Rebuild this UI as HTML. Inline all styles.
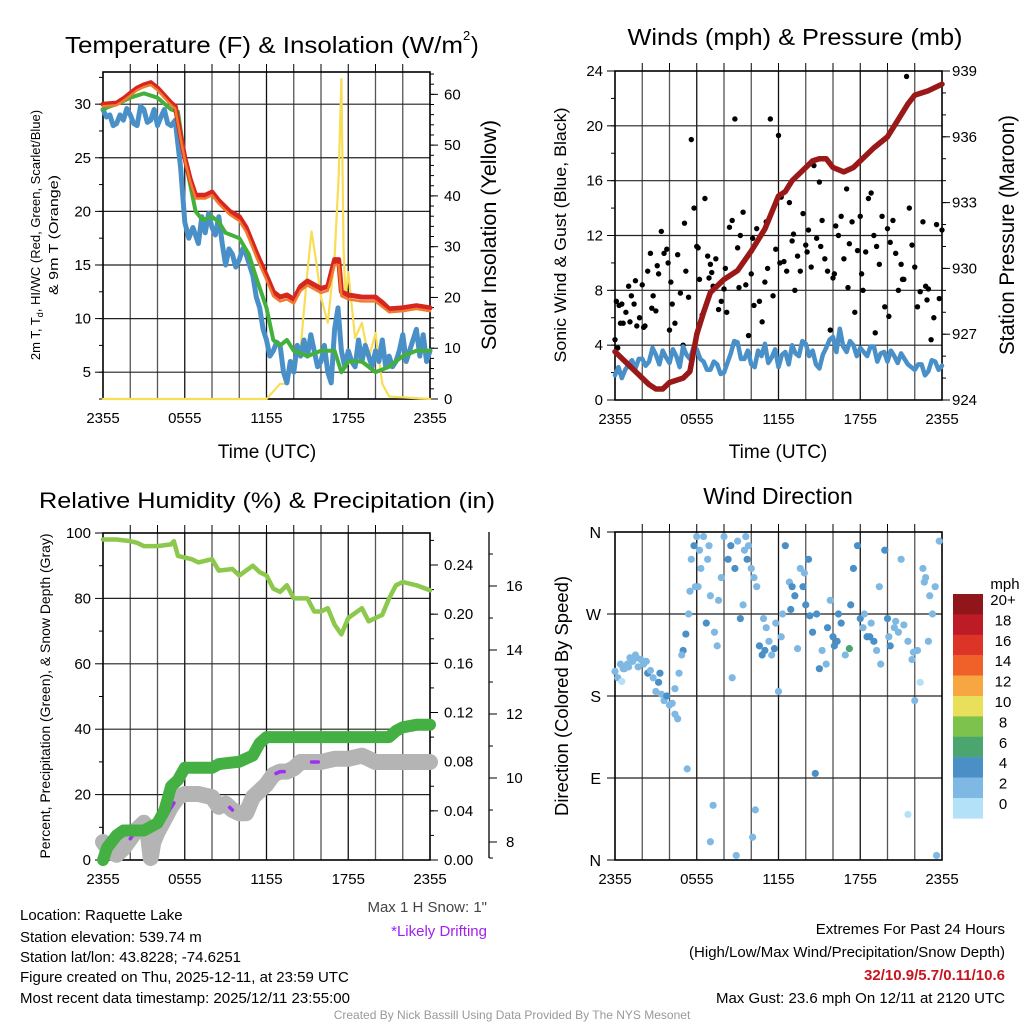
<!DOCTYPE html>
<html><head><meta charset="utf-8"><style>
body{margin:0;background:#fff}
svg{display:block;font-family:"Liberation Sans",sans-serif}
</style></head><body>
<svg id="s" width="1024" height="1024" viewBox="0 0 1024 1024"></svg>
<script>
// ---------- DATA ----------
const tRed=[0,1,1.5,2,2.5,3,3.5,4,4.5,5,5.3,5.7,6,6.4,6.8,7.5,8,8.5,9.3,10,10.5,11.3,12,12.5,13,13.5,14,14.5,15,16,16.5,17,17.3,17.5,18,19,20,20.5,21,22,23,24];
const vRed=[30,30.1,30.5,31,31.5,31.8,32,31.5,30.8,30.1,29.8,27,25,23,21.5,21.5,21.8,21,20,19.5,18.5,16,14,12.5,12,12.2,11.8,13,13.5,12.8,13,15.5,15.5,12.5,12.2,12,12,11.5,10.9,11,11.2,11];
const vOrange=[29.8,29.9,30.3,30.8,31.3,31.6,31.8,31.3,30.6,29.9,29.6,26.8,24.8,22.8,21.2,21.2,21.5,20.7,19.7,19.1,18.1,15.6,13.6,12.1,11.6,11.8,11.4,12.6,13.1,12.4,12.6,15,15,12.1,11.8,11.6,11.6,11.1,10.6,10.7,10.9,10.7];
const tGreen=[0,0.5,1,2,3,4,5,5.5,6,6.8,7.3,8,8.5,9,10,10.7,11.2,12,12.5,13,13.5,14,15,16,17,17.5,18,19,20,21,22,23,24];
const vGreen=[29.5,29.8,30,30.6,31,30.6,29.5,29.3,25,20,19.2,19.5,19,18,17.5,16,14,11,8,7.5,8,7,6.5,7,7,5,6,6,5,5.5,6.5,7,7];
const tBlue=[0,0.25,0.5,0.75,1,1.25,1.5,1.75,2,2.25,2.5,2.75,3,3.25,3.5,3.75,4,4.25,4.5,4.75,5,5.3,5.7,6,6.3,6.6,7,7.25,7.5,7.75,8,8.25,8.5,8.75,9,9.25,9.5,9.75,10,10.25,10.5,10.75,11,11.25,11.5,11.75,12,12.25,12.5,12.75,13,13.25,13.5,13.75,14,14.25,14.5,14.75,15,15.25,15.5,15.75,16,16.25,16.5,16.75,17,17.25,17.5,17.75,18,18.25,18.5,18.75,19,19.25,19.5,19.75,20,20.25,20.5,20.75,21,21.25,21.5,21.75,22,22.25,22.5,22.75,23,23.25,23.5,23.75,24];
const vBlue=[29.5,28.8,29,28,28.2,29,28.5,29.6,29,28.2,28,29.8,29.5,28.3,28.5,29.5,28,28.8,29.5,28.2,28,28.5,24,19,17.5,18.5,17,19.5,18,19.8,18.5,17.8,19.5,17,15,16.5,16,14.8,15.5,16.5,16,15,14,12,11,9,8,6.5,7,7.8,7.5,5,4,6,5,7.5,6.5,8,6.5,8.5,7,5.5,6,7.5,5,4,9,11,7,5.5,7,6,5.5,8,6,7.5,6.5,5.5,7,6,8,5.5,6.5,5.5,6,7,8.5,6,7,8,9,6.5,8.5,6,7];
const tSun=[0,12,12.5,13,13.5,14,14.5,15,15.3,15.6,16,16.5,17,17.3,17.5,17.65,17.8,18,18.5,19,19.5,20,20.5,21,24];
const vSun=[0,0,1.5,3,3,8,10,25,33,28,20,15,28,44,63,30,20,25,12,15,8,13,3,0.5,0];

const tPres=[0,1,2,2.5,3,3.5,4,5,5.5,6,6.5,7,8,9,10,11,12,12.5,13,14,14.5,15,15.5,16,16.8,17.5,18,19,20,21,21.5,22,23,24];
const vPres=[926.2,925.6,925,924.7,924.5,924.5,924.8,925,925.3,927,928,928.9,929.5,929.9,930.8,931.8,933.3,933.5,934,934.6,934.9,935,935,934.6,934.4,934.6,934.9,935.5,936,937,937.5,937.9,938.1,938.4];
const tWind=[0,0.25,0.5,0.75,1,1.25,1.5,1.75,2,2.25,2.5,2.75,3,3.25,3.5,3.75,4,4.25,4.5,4.75,5,5.25,5.5,5.75,6,6.25,6.5,6.75,7,7.25,7.5,7.75,8,8.25,8.5,8.75,9,9.25,9.5,9.75,10,10.25,10.5,10.75,11,11.25,11.5,11.75,12,12.25,12.5,12.75,13,13.25,13.5,13.75,14,14.25,14.5,14.75,15,15.25,15.5,15.75,16,16.25,16.5,16.75,17,17.25,17.5,17.75,18,18.25,18.5,18.75,19,19.25,19.5,19.75,20,20.25,20.5,20.75,21,21.25,21.5,21.75,22,22.25,22.5,22.75,23,23.25,23.5,23.75,24];
const vWind=[1.8,2.4,1.6,2.2,2.6,2.9,2.3,3,3,2.5,2.8,3.8,3.3,2.6,3.6,3.1,2.7,3.7,3.2,2.4,3.9,3.3,3,3.8,3.7,3,2.8,2.2,2.2,2.8,2.6,1.9,2,2.7,3.4,4.3,4.2,3,3,3.6,2.6,2.4,3.6,3.2,4.1,2.7,3.1,3.7,2.4,3.3,3.5,2.6,4,3.4,3.2,4.3,4.1,3.2,3.6,2.6,2.3,3.3,3.8,4.4,4.6,3.5,5.2,3.9,3.5,4.3,4,3.2,3.8,3.5,3.2,3.9,3.9,2.8,3.4,3.5,2.8,3.6,3.2,2.7,3.4,3,2.6,2.4,2.2,2.6,2.6,1.8,2.1,2.9,2.8,2.2,2.5];
const gustT=[0,0.1,0.2,0.3,0.4,0.6,0.8,1.0,1.1,1.2,
 1.4,1.6,1.8,2.0,2.1,2.2,2.4,2.6,2.8,3.0,
 3.1,3.2,3.4,3.6,3.8,4.0,4.1,4.2,4.4,4.6,
 4.8,5.0,5.1,5.2,5.4,5.6,5.8,6.0,6.1,6.2,
 6.4,6.6,6.8,7.0,7.1,7.2,7.4,7.6,7.8,8.0,
 8.1,8.2,8.4,8.6,8.8,9.0,9.1,9.2,9.4,9.6,
 9.8,10.0,10.1,10.2,10.4,10.6,10.8,11.0,11.1,11.2,
 11.4,11.6,11.8,12.0,12.1,12.2,12.4,12.6,12.8,13.0,
 13.1,13.2,13.4,13.6,13.8,14.0,14.1,14.2,14.4,14.6,
 14.8,15.0,15.1,15.2,15.4,15.6,15.8,16.0,16.1,16.2,
 16.4,16.6,16.8,17.0,17.1,17.2,17.4,17.6,17.8,18.0,
 18.1,18.2,18.4,18.6,18.8,19.0,19.1,19.2,19.4,19.6,
 19.8,20.0,20.1,20.2,20.4,20.6,20.8,21.0,21.1,21.2,
 21.4,21.6,21.8,22.0,22.2,22.4,22.6,22.8,23.0,23.2,
 23.4,23.6,23.8,24.0,6.9,3.9,2.7,1.5,0.5,22.9];
const gustV=[4.4,7.2,3.8,6.9,5.6,5.6,6.4,8.3,5.7,7.6,
 7.0,5.4,6.0,8.4,5.3,5.4,9.4,10.7,7.6,6.5,
 9.8,9.2,12.3,10.7,11.0,5.1,8.6,7.0,5.6,10.6,
 7.8,4.0,12.9,9.4,7.5,19.0,14.0,11.2,11.1,8.8,
 6.2,14.7,10.5,9.9,9.3,8.3,10.3,6.6,7.2,8.1,
 9.6,6.4,12.6,13.1,20.5,11.1,8.2,12.0,13.7,8.4,
 4.7,9.2,11.8,6.9,12.5,7.2,5.7,8.6,13.0,9.6,
 20.5,7.6,11.0,19.3,10.0,14.8,10.1,9.4,14.4,11.6,
 12.1,8.0,10.5,9.4,13.6,11.3,10.8,12.4,9.7,17.1,
 11.8,15.9,11.2,13.1,10.3,9.4,5.1,8.9,9.2,12.7,
 12.0,13.4,10.3,15.4,8.2,11.4,13.0,6.4,10.9,13.4,
 9.2,8.0,10.8,14.7,15.1,12.0,4.9,11.2,9.9,13.4,
 6.8,12.5,6.1,11.5,13.1,10.7,8.0,9.9,8.8,8.8,
 23.6,14.0,11.3,9.7,6.8,7.9,13.0,8.3,8.1,4.4,
 6.0,12.8,7.4,12.4,8.9,10.0,6.7,8.7,7.0,7.3];

const tRH=[0,1,2,2.5,3,4,5,5.2,5.5,6.5,7,8,8.5,9.5,10,11,11.5,12,12.5,13,13.5,14,15,15.5,16,16.5,17,17.5,18,19,19.5,20,20.5,21,21.5,22,23,24];
const vRH=[98,98,97.5,97,96,96,96.5,97.5,93,92,91,92,88.5,89,87,90,88,87,83,82,84,80,80,76,76,77,72,69,74,77,73,74,75,80,84,85,84,82.5];
const tPcp=[0,0.3,1,1.5,3,4,4.5,5,5.5,6,8,8.5,10,11,11.5,12,21,21.5,22,23,24];
const vPcp=[0,0.01,0.02,0.024,0.024,0.03,0.04,0.06,0.065,0.075,0.075,0.078,0.08,0.085,0.095,0.1,0.1,0.105,0.108,0.11,0.11];
const tSnow=[0,0.5,1,1.5,2,2.5,3,3.3,3.5,3.7,4,4.5,5,5.5,6,7,8,8.5,9,9.5,10,10.5,11,11.5,12,12.5,13,13.5,14,14.5,15,16,17,18,19,19.5,20,21,22,23,24];
const vSnow=[8,7.7,7.6,7.8,8.1,8.4,8.6,8.2,7.5,8,8.3,8.7,9.1,9.4,9.5,9.5,9.4,9.1,9.2,9,8.9,8.9,9.4,9.6,9.8,10.1,10.2,10.2,10.3,10.5,10.5,10.5,10.6,10.6,10.7,10.6,10.5,10.5,10.5,10.5,10.5];
const driftStart=[2,4.6,9.3,12.7,15.3];
const driftEnd=[2.3,5.2,9.5,13.3,15.8];

const dirT=[0,0.2,0.4,0.5,0.7,0.9,1.1,1.3,1.5,1.7,
 1.9,2.1,2.4,2.6,2.8,3.0,3.2,3.4,3.6,3.8,
 4.0,4.2,4.4,4.6,4.4,4.7,5.0,5.2,5.4,5.5,
 5.6,5.8,6.0,6.2,5.9,6.3,6.5,6.7,6.8,7.0,
 7.3,7.5,7.8,8.0,8.3,8.5,8.8,9.0,8.6,9.2,
 9.4,9.6,9.8,10.0,10.2,10.4,10.6,10.8,11.0,11.3,
 11.5,11.8,12.0,12.3,12.5,12.8,13.0,13.2,13.4,13.6,
 13.8,14.0,14.3,14.5,14.8,15.0,14.7,15.2,15.5,15.8,
 16.0,16.3,16.6,16.9,17.2,17.5,17.8,18.0,18.3,18.5,
 18.8,19.0,19.2,19.5,19.8,20.0,20.2,20.5,20.8,21.0,
 21.2,21.5,21.8,22.0,22.2,22.4,22.6,22.8,23.0,23.3,
 23.5,23.8,23.6,7.2,7.0,8.9,10.3,10.1,5.3,21.5,
 1.0,2.3,3.3,6.1,6.9,9.7,11.1,12.9,13.9,16.1,
 17.3,18.7,19.4,20.6,21.9,23.1,0.6,1.6,4.9,7.6,
 10.9,12.2,14.2,16.4,18.2,20.1,22.7,9.5,11.7,15.6];
const dirV=[207,200,215,196,210,215,222,218,225,212,
 220,215,205,208,200,185,195,182,175,180,
 170,172,160,155,188,205,230,248,270,295,
 330,345,355,340,300,320,355,260,330,290,
 250,235,310,355,330,345,320,350,200,265,
 280,355,345,320,310,300,235,225,230,240,
 225,260,185,270,345,305,300,290,232,320,
 300,280,268,250,270,210,95,230,215,285,
 245,240,260,225,232,320,345,265,270,245,
 260,240,230,215,340,265,235,255,250,330,
 258,240,220,175,230,195,320,310,240,270,
 300,350,5,60,20,5,55,25,100,50,
 212,218,205,300,345,330,255,275,315,235,
 280,245,300,262,228,290,210,222,225,285,
 265,245,330,270,255,245,305,340,232,255];
const dirS=[2.5,2.5,3,1.5,3,3,3,2.5,3,3,
 3,3,4.5,3,3,3,4.5,3,3,4.5,
 3,3,3,3,3,3,4.5,4.5,3,3,
 3,4.5,3,3,3,3,3,4.5,3,3,
 3,3,3,3,4.5,4.5,4.5,3,3,4.5,
 3,3,3,3,3,3,4.5,4.5,4.5,3,
 3,3,3,3,4.5,3,4.5,4.5,3,3,
 4.5,4.5,4.5,4.5,4.5,4.5,4.5,3,3,3,
 4.5,4.5,4.5,3,6.5,4.5,4.5,4.5,3,4.5,
 3,4.5,3,3,4.5,4.5,4.5,3,3,3,
 3,3,3,3,3,1.5,3,3,3,3,
 3,3,3,3,3,3,3,3,3,1.5,
 3,3,4.5,3,3,4.5,3,4.5,3,4.5,
 4.5,4.5,3,3,3,3,3,3,3,3,
 3,3,4.5,4.5,3,3,3,3,4.5,4.5];

const cbLabels=["20+","18","16","14","12","10","8","6","4","2","0"];
const cbColors=["#91161a","#bd1c26","#dd3428","#ef6128","#f6a742","#e8e05a","#7cc24d","#4aa56e","#4a8fc6","#7fb8e3","#b3e1f7"];
const timeTicks=["2355","0555","1155","1755","2355"];

// ---------- HELPERS ----------
const S=document.getElementById('s');const NS='http://www.w3.org/2000/svg';
function mk(tag,at,parent){const e=document.createElementNS(NS,tag);for(const k in at)e.setAttribute(k,at[k]);(parent||S).appendChild(e);return e;}
function txt(x,y,s,at,parent){const e=mk('text',Object.assign({x:x,y:y},at||{}),parent);e.textContent=s;return e;}
function grp(name){const g=mk('g',{});return g;}
function lin(x0,w){return t=>x0+t*w/24;}
function scl(v0,v1,p0,p1){return v=>p0+(v-v0)*(p1-p0)/(v1-v0);}
function line(g,ts,vs,X,Y,col,w){const pts=ts.map((t,i)=>X(t).toFixed(1)+','+Y(vs[i]).toFixed(1)).join(' ');return mk('polyline',{points:pts,fill:'none',stroke:col,'stroke-width':w,'stroke-linejoin':'round','stroke-linecap':'round'},g);}
function frame(g,L,T,R,B,hGrid){
  for(let i=1;i<12;i++){const x=L+i*(R-L)/12;mk('line',{x1:x,y1:T,x2:x,y2:B,stroke:i%3==0?'#111':'#555','stroke-width':1.3},g);mk('line',{x1:x,y1:T-8,x2:x,y2:T,stroke:'#000','stroke-width':1},g);}
  hGrid.forEach(y=>mk('line',{x1:L,y1:y,x2:R,y2:y,stroke:'#222','stroke-width':1.2},g));
  mk('rect',{x:L,y:T,width:R-L,height:B-T,fill:'none',stroke:'#000','stroke-width':1.6},g);
  for(let i=0;i<=4;i++){const x=L+i*(R-L)/4;const e=txt(x,B+24,timeTicks[i],{'font-size':15,'text-anchor':'middle'},g);}
}
function lAxis(g,x,vals,Y,labels,minor){
  vals.forEach((v,i)=>{const y=Y(v);mk('line',{x1:x-8,y1:y,x2:x,y2:y,stroke:'#000'},g);txt(x-12,y+5,labels[i],{'font-size':15,'text-anchor':'end'},g);});
  (minor||[]).forEach(v=>{const y=Y(v);mk('line',{x1:x-4,y1:y,x2:x,y2:y,stroke:'#000'},g);});
}
function rAxis(g,x,vals,Y,labels,minor,off){
  vals.forEach((v,i)=>{const y=Y(v);mk('line',{x1:x,y1:y,x2:x+8,y2:y,stroke:'#000'},g);txt(x+(off||14),y+5,labels[i],{'font-size':15},g);});
  (minor||[]).forEach(v=>{const y=Y(v);mk('line',{x1:x,y1:y,x2:x+4,y2:y,stroke:'#000'},g);});
}
function range(a,b,s){const r=[];for(let v=a;v<=b+1e-9;v+=s)r.push(+v.toFixed(4));return r;}
function vtitle(x,y,s,size,g,len){const e=txt(0,0,s,{'font-size':size,'text-anchor':'middle',transform:`translate(${x},${y}) rotate(-90)`},g);if(len){e.setAttribute('textLength',len);e.setAttribute('lengthAdjust','spacingAndGlyphs');}return e;}

// ---------- PANEL 1 ----------
{const g=grp('temperature-panel');const L=103,R=430,T=72,B=399;const X=lin(L,R-L);
 const Y=scl(2.5,33,B,T);const Ys=scl(0,64.4,B,T);
 frame(g,L,T,R,B,[5,10,15,20,25,30].map(Y));
 lAxis(g,L,[5,10,15,20,25,30],Y,['5','10','15','20','25','30'],range(2.5,32.5,2.5));
 rAxis(g,R,[0,10,20,30,40,50,60],Ys,['0','10','20','30','40','50','60'],range(0,64,2));
 const s=grp('insolation-line');g.appendChild(s);line(s,tSun,vSun,X,Ys,'#f7de55',2.2);
 const b=grp('blue-line');g.appendChild(b);line(b,tBlue,vBlue,X,Y,'#4a90c8',5);
 const gr=grp('dewpoint-line');g.appendChild(gr);line(gr,tGreen,vGreen,X,Y,'#44b03c',4);
 const r=grp('temperature-line');g.appendChild(r);line(r,tRed,vRed,X,Y,'#d7261f',5);
 const o=grp('9m-temperature-line');g.appendChild(o);line(o,tRed,vOrange,X,Y,'#f07a30',2.5);
 const t=txt(65,53,'Temperature (F) & Insolation (W/m',{'font-size':23,textLength:398,lengthAdjust:'spacingAndGlyphs'},g);
 
 txt(463,40,'2',{'font-size':13},g);txt(471,53,')',{'font-size':23},g);
 txt(267,458,'Time (UTC)',{'font-size':19,'text-anchor':'middle'},g);
 const yt=txt(0,0,'',{'font-size':13,'text-anchor':'middle',transform:'translate(40,235) rotate(-90)'},g);
 yt.innerHTML='2m T, T<tspan font-size="9" dy="3">d</tspan><tspan dy="-3">, HI/WC (Red, Green, Scarlet/Blue)</tspan>';
 vtitle(58,235,'& 9m T (Orange)',13,g,120);
 vtitle(496,235,'Solar Insolation (Yellow)',21,g,230);
}
// ---------- PANEL 2 ----------
{const g=grp('wind-panel');const L=615,R=942,T=71,B=400;const X=lin(L,R-L);
 const Y=scl(0,24,B,T);const Yp=scl(924,939,B,T);
 frame(g,L,T,R,B,[4,8,12,16,20].map(Y));
 lAxis(g,L,[0,4,8,12,16,20,24],Y,['0','4','8','12','16','20','24'],range(0,24,2));
 rAxis(g,R,[924,927,930,933,936,939],Yp,['924','927','930','933','936','939'],range(924,939,1),10);
 const gs=grp('gust-points');g.appendChild(gs);
 gustT.forEach((t,i)=>{const c=mk('circle',{cx:X(t),cy:Y(gustV[i]),r:2.7,fill:'#000'},gs);});
 const w=grp('wind-line');g.appendChild(w);line(w,tWind,vWind,X,Y,'#4a90c8',4.5);
 const p=grp('pressure-line');g.appendChild(p);line(p,tPres,vPres,X,Yp,'#9b1818',5.5);
 txt(795,45,'Winds (mph) & Pressure (mb)',{'font-size':23,'text-anchor':'middle',textLength:335,lengthAdjust:'spacingAndGlyphs'},g);
 txt(778,458,'Time (UTC)',{'font-size':19,'text-anchor':'middle'},g);
 vtitle(566,235,'Sonic Wind & Gust (Blue, Black)',17,g,255);
 vtitle(1014,235,'Station Pressure (Maroon)',21,g,240);
}
// ---------- PANEL 3 ----------
{const g=grp('humidity-panel');const L=103,R=430,T=533,B=860;const X=lin(L,R-L);
 const Y=scl(0,100,B,T);const Yp=scl(0,0.24,B,565);const Ys=scl(8,16,842,586);
 frame(g,L,T,R,B,[20,40,60,80].map(Y));
 lAxis(g,L,[0,20,40,60,80,100],Y,['0','20','40','60','80','100'],range(10,90,20));
 rAxis(g,R,[0,0.04,0.08,0.12,0.16,0.2,0.24],Yp,['0.00','0.04','0.08','0.12','0.16','0.20','0.24'],range(0,0.26,0.02));
 mk('line',{x1:489,y1:532,x2:489,y2:858,stroke:'#000','stroke-width':1.3},g);
 rAxis(g,489,[8,10,12,14,16],Ys,['8','10','12','14','16'],range(8,17,1).concat([7.5]),17);
 const sn=grp('snow-depth-line');g.appendChild(sn);line(sn,tSnow,vSnow,X,Ys,'#b4b4b4',16);
 const dr=grp('drifting-segments');g.appendChild(dr);
 const interp=t=>{for(let k=1;k<tSnow.length;k++)if(t<=tSnow[k]){const f=(t-tSnow[k-1])/(tSnow[k]-tSnow[k-1]);return vSnow[k-1]+f*(vSnow[k]-vSnow[k-1]);}return vSnow[vSnow.length-1];};
 driftStart.forEach((a,i)=>{const m=(a+driftEnd[i])/2;line(dr,[a,m,driftEnd[i]],[interp(a),interp(m),interp(driftEnd[i])],X,Ys,'#a030f0',3.5);});
 const pc=grp('precipitation-line');g.appendChild(pc);line(pc,tPcp,vPcp,X,Yp,'#44b044',12);
 const rh=grp('relative-humidity-line');g.appendChild(rh);line(rh,tRH,vRH,X,Y,'#8cc84b',4.5);
 txt(267,508,'Relative Humidity (%) & Precipitation (in)',{'font-size':22,'text-anchor':'middle',textLength:456,lengthAdjust:'spacingAndGlyphs'},g);
 vtitle(50,696,'Percent, Precipitation (Green), & Snow Depth (Gray)',14,g,325);
}
// ---------- PANEL 4 ----------
{const g=grp('wind-direction-panel');const L=615,R=942,T=532,B=860;const X=lin(L,R-L);
 const Y=scl(0,360,B,T);
 frame(g,L,T,R,B,[90,180,270].map(Y));
 [0,90,180,270,360].forEach((v,i)=>{const y=Y(v);mk('line',{x1:L-8,y1:y,x2:L,y2:y,stroke:'#000'},g);txt(L-14,y+6,['N','E','S','W','N'][i],{'font-size':16,'text-anchor':'end'},g);});
 const pg=grp('direction-points');g.appendChild(pg);
 dirT.forEach((t,i)=>{const sp=dirS[i];const bin=Math.min(10,Math.floor(sp/2));const c=mk('circle',{cx:X(t),cy:Y(dirV[i]),r:3.6,fill:cbColors[10-bin]},pg);});
 txt(778,504,'Wind Direction',{'font-size':23,'text-anchor':'middle'},g);
 vtitle(568,696,'Direction (Colored By Speed)',18,g,240);
 const cb=grp('speed-colorbar');g.appendChild(cb);
 cbColors.forEach((c,i)=>{mk('rect',{x:953,y:594+i*20.4,width:30,height:20.6,fill:c},cb);txt(1003,611+i*20.4-6,cbLabels[i],{'font-size':15,'text-anchor':'middle'},cb);});
 txt(1005,589,'mph',{'font-size':15,'text-anchor':'middle'},cb);
}
// ---------- FOOTER TEXT ----------
{const g=grp('station-info');
 const lines=['Location: Raquette Lake','Station elevation: 539.74 m','Station lat/lon: 43.8228; -74.6251','Figure created on Thu, 2025-12-11, at 23:59 UTC','Most recent data timestamp: 2025/12/11 23:55:00'];
 const ys=[920,942,962,982,1003];
 lines.forEach((s,i)=>txt(20,ys[i],s,{'font-size':15},g));
 txt(487,912,'Max 1 H Snow: 1"',{'font-size':15,'text-anchor':'end',fill:'#444'},g);
 txt(487,936,'*Likely Drifting',{'font-size':15,'text-anchor':'end',fill:'#a020f0'},g);
 const r=grp('extremes-info');
 txt(1005,934,'Extremes For Past 24 Hours',{'font-size':15,'text-anchor':'end'},r);
 txt(1005,957,'(High/Low/Max Wind/Precipitation/Snow Depth)',{'font-size':15,'text-anchor':'end'},r);
 txt(1005,980,'32/10.9/5.7/0.11/10.6',{'font-size':15,'text-anchor':'end',fill:'#c8141e','font-weight':'bold'},r);
 txt(1005,1003,'Max Gust: 23.6 mph On 12/11 at 2120 UTC',{'font-size':15,'text-anchor':'end'},r);
 txt(512,1019,'Created By Nick Bassill Using Data Provided By The NYS Mesonet',{'font-size':12,'text-anchor':'middle',fill:'#999'},g);
}
</script>
</body></html>
